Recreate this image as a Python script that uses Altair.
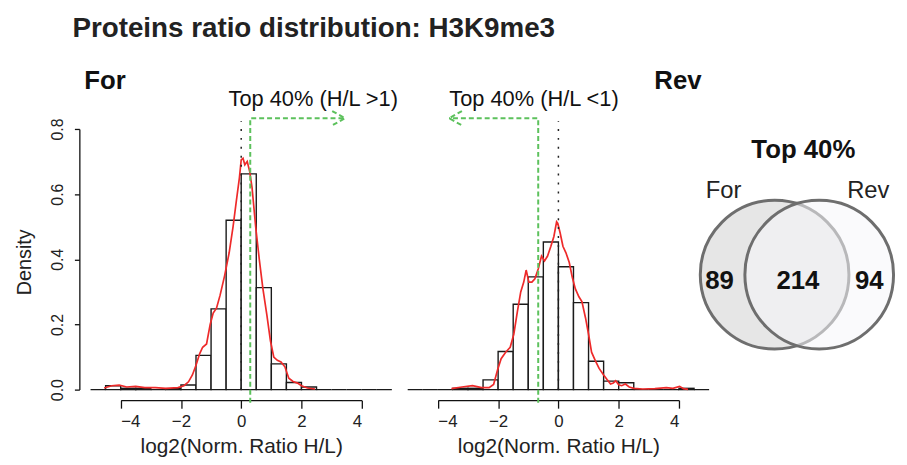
import altair as alt
import pandas as pd

# ---------------- data ----------------
bin_starts = [-5.0, -4.5, -4.0, -3.5, -3.0, -2.5, -2.0, -1.5, -1.0, -0.5,
              0.0, 0.5, 1.0, 1.5, 2.0, 2.5, 3.0, 3.5, 4.0, 4.5]
bin_width = 0.5
for_hist = [0, 0.012, 0.004, 0.004, 0, 0.003, 0.014, 0.105, 0.248, 0.52,
            0.662, 0.313, 0.079, 0.022, 0.008, 0, 0, 0, 0, 0]
rev_hist = [0, 0, 0, 0.004, 0.004, 0.03, 0.117, 0.262, 0.346, 0.453,
            0.377, 0.267, 0.087, 0.026, 0.021, 0, 0, 0, 0.004, 0]

for_curve_x = [-4.55, -4.3, -4.05, -3.8, -3.5, -3.2, -2.85, -2.5, -2.1, -1.9, -1.75, -1.62,
               -1.5, -1.38, -1.28, -1.15, -1.03, -0.93, -0.82, -0.7, -0.55, -0.4, -0.27,
               -0.16, -0.06, 0.0, 0.06, 0.12, 0.2, 0.28, 0.36, 0.48, 0.6, 0.72, 0.85, 0.97,
               1.08, 1.2, 1.32, 1.45, 1.58, 1.72, 1.87, 2.0, 2.2, 2.45]
for_curve_y = [0.005, 0.012, 0.014, 0.008, 0.010, 0.006, 0.006, 0.004, 0.006, 0.012, 0.024,
               0.045, 0.075, 0.11, 0.13, 0.14, 0.2, 0.235, 0.25, 0.29, 0.35, 0.42, 0.5, 0.58,
               0.65, 0.705, 0.71, 0.69, 0.70, 0.67, 0.62, 0.5, 0.4, 0.31, 0.23, 0.15, 0.1,
               0.09, 0.085, 0.07, 0.035, 0.025, 0.02, 0.012, 0.005, 0.002]

rev_curve_x = [-3.55, -3.2, -2.85, -2.55, -2.3, -2.15, -2.02, -1.9, -1.75, -1.6, -1.48, -1.36,
               -1.25, -1.15, -1.07, -0.98, -0.88, -0.78, -0.67, -0.56, -0.46, -0.36, -0.25,
               -0.15, -0.06, -0.02, 0.06, 0.15, 0.25, 0.36, 0.46, 0.56, 0.68, 0.78, 0.9, 1.0,
               1.1, 1.22, 1.35, 1.5, 1.62, 1.73, 1.82, 1.9, 2.0, 2.1, 2.22, 2.35, 2.5, 2.8,
               3.2, 3.58, 3.8, 4.02, 4.15, 4.3]
rev_curve_y = [0.003, 0.008, 0.012, 0.006, 0.006, 0.016, 0.06, 0.095, 0.115, 0.13, 0.17, 0.24,
               0.3, 0.33, 0.367, 0.33, 0.33, 0.34, 0.37, 0.41, 0.395, 0.41, 0.44, 0.47, 0.515,
               0.51, 0.48, 0.44, 0.42, 0.39, 0.345, 0.31, 0.285, 0.27, 0.22, 0.17, 0.115, 0.09,
               0.065, 0.045, 0.03, 0.017, 0.02, 0.027, 0.015, 0.012, 0.017, 0.008, 0.004,
               0.002, 0.003, 0.006, 0.004, 0.01, 0.003, 0.001]

for_cutoff = 0.3      # log2 ratio cut-off of the top 40% (H/L > 1)
rev_cutoff = -0.67    # log2 ratio cut-off of the top 40% (H/L < 1)

x_ticks = [-4, -2, 0, 2, 4]
y_ticks = [0.0, 0.2, 0.4, 0.6, 0.8]

venn_sets = ["For", "Rev"]
venn_counts = [89, 214, 94]          # For only, both, Rev only
venn_title = "Top 40%"
main_title = "Proteins ratio distribution: H3K9me3"
x_title = "log2(Norm. Ratio H/L)"

# ---------------- layout ----------------
W, H = 899, 457
FONT = "Liberation Sans"
LEFT_RANGE = [113.7, 356.9]
RIGHT_RANGE = [433.7, 677.0]
Y_RANGE = [383, 120]
GREEN = "#5cc15c"
RED = "#ee2a2a"


def xaxis_spec():
    return alt.Axis(values=x_ticks, orient="bottom", offset=-63.3, tickSize=8,
                    tickWidth=1.3, tickColor="#111", domainColor="#111", domainWidth=1.3,
                    labelFont=FONT, labelFontSize=17, labelColor="#222", labelPadding=6,
                    title=x_title, titleFont=FONT, titleFontSize=21, titleFontWeight="normal",
                    titleColor="#222", titleY=47, titleBaseline="middle", grid=False)


def panel(hist, cx, cy, cutoff, direction, xrange, show_y, note, note_x, name, name_x, name_align):
    xs = alt.Scale(domain=[-4, 4], range=xrange, nice=False, zero=False)
    ys = alt.Scale(domain=[0, 0.8], range=Y_RANGE, nice=False, zero=False)

    hdf = pd.DataFrame({
        "x": bin_starts,
        "x2": [b + bin_width for b in bin_starts],
        "y": hist,
        "y0": [0.0] * len(bin_starts),
    })
    if show_y:
        yaxis = alt.Axis(values=y_ticks, format=".1f", orient="left", offset=-72, tickSize=5,
                         tickWidth=1.3, tickColor="#111", domainColor="#111", domainWidth=1.3,
                         labelFont=FONT, labelFontSize=16, labelColor="#222", labelAngle=270,
                         labelAlign="center", labelBaseline="middle", labelPadding=17,
                         title="Density", titleFont=FONT, titleFontSize=20,
                         titleFontWeight="normal", titleColor="#222", titleAngle=270,
                         titleX=-55, titleY=254, titleAlign="center", titleBaseline="middle",
                         grid=False)
    else:
        yaxis = None

    bars = alt.Chart(hdf).mark_bar(fill="white", stroke="#1a1a1a", strokeWidth=1.4).encode(
        x=alt.X("x:Q", scale=xs, axis=xaxis_spec()),
        x2="x2:Q",
        y=alt.Y("y:Q", scale=ys, axis=yaxis),
        y2="y0:Q",
    )

    cdf = pd.DataFrame({"x": cx, "y": cy, "o": list(range(len(cx)))})
    curve = alt.Chart(cdf).mark_line(color=RED, strokeWidth=1.7).encode(
        x=alt.X("x:Q", scale=xs, axis=None),
        y=alt.Y("y:Q", scale=ys, axis=None),
        order="o:Q",
    )

    ddf = pd.DataFrame({"x": [0.0], "y": [0.0], "y2": [0.824]})
    dotted = alt.Chart(ddf).mark_rule(color="#222", strokeWidth=1.5, strokeDash=[2, 7]).encode(
        x=alt.X("x:Q", scale=xs, axis=None),
        y=alt.Y("y:Q", scale=ys, axis=None),
        y2="y2:Q",
    )

    tip = 3.45 if direction > 0 else -3.63
    back = tip - direction * 0.43
    gdf = pd.DataFrame({
        "x": [cutoff, cutoff, tip, back, tip, back],
        "y": [-0.04, 0.833, 0.833, 0.855, 0.833, 0.811],
        "seg": ["path", "path", "path", "head", "head", "head"],
        "o": [0, 1, 2, 0, 1, 2],
    })
    green = alt.Chart(gdf).mark_line(color=GREEN, strokeWidth=2, strokeDash=[5, 3]).encode(
        x=alt.X("x:Q", scale=xs, axis=None),
        y=alt.Y("y:Q", scale=ys, axis=None),
        detail="seg:N",
        order="o:Q",
    )

    ndf = pd.DataFrame({"x": [note_x], "y": [0.872], "t": [note]})
    note_text = alt.Chart(ndf).mark_text(font=FONT, fontSize=22, color="#111", align="center",
                                         baseline="alphabetic").encode(
        x=alt.X("x:Q", scale=xs, axis=None),
        y=alt.Y("y:Q", scale=ys, axis=None),
        text="t:N",
    )

    tdf = pd.DataFrame({"x": [name_x], "y": [0.924], "t": [name]})
    name_text = alt.Chart(tdf).mark_text(font=FONT, fontSize=26, fontWeight="bold", color="#111",
                                         align=name_align, baseline="alphabetic").encode(
        x=alt.X("x:Q", scale=xs, axis=None),
        y=alt.Y("y:Q", scale=ys, axis=None),
        text="t:N",
    )
    return [bars, curve, dotted, green, note_text, name_text]


left_layers = panel(for_hist, for_curve_x, for_curve_y, for_cutoff, 1, LEFT_RANGE, True,
                    "Top 40% (H/L >1)", 2.39, "For", -5.21, "left")
right_layers = panel(rev_hist, rev_curve_x, rev_curve_y, rev_cutoff, -1, RIGHT_RANGE, False,
                     "Top 40% (H/L <1)", -0.81, "Rev", 4.75, "right")

# ---------------- Venn diagram ----------------
vx = alt.Scale(domain=[-100, 100], range=[696, 896], nice=False, zero=False)
vy = alt.Scale(domain=[-100, 100], range=[367, 167], nice=False, zero=False)

circ = pd.DataFrame({"set": venn_sets, "x": [-22.5, 22.5], "y": [0.0, 0.0]})
c_for = alt.Chart(circ).transform_filter(alt.datum.set == "For").mark_point(
    shape="circle", filled=True, fill="#e6e6e6", stroke="#6e6e6e", strokeWidth=3,
    opacity=1, fillOpacity=1, size=22500).encode(
    x=alt.X("x:Q", scale=vx, axis=None), y=alt.Y("y:Q", scale=vy, axis=None))
c_rev = alt.Chart(circ).transform_filter(alt.datum.set == "Rev").mark_point(
    shape="circle", filled=True, fill="#f5f5fa", stroke="#6e6e6e", strokeWidth=3,
    opacity=1, fillOpacity=0.55, strokeOpacity=1, size=22500).encode(
    x=alt.X("x:Q", scale=vx, axis=None), y=alt.Y("y:Q", scale=vy, axis=None))

set_lab = pd.DataFrame({"t": venn_sets, "x": [-74, 72], "y": [77, 77]})
set_text = alt.Chart(set_lab).mark_text(font=FONT, fontSize=24, color="#222",
                                        baseline="alphabetic").encode(
    x=alt.X("x:Q", scale=vx, axis=None), y=alt.Y("y:Q", scale=vy, axis=None), text="t:N")

num_lab = pd.DataFrame({"t": [str(v) for v in venn_counts], "x": [-78, 1, 73],
                        "y": [-6, -6, -6]})
num_text = alt.Chart(num_lab).mark_text(font=FONT, fontSize=26, fontWeight="bold",
                                        color="#111", baseline="middle").encode(
    x=alt.X("x:Q", scale=vx, axis=None), y=alt.Y("y:Q", scale=vy, axis=None), text="t:N")

vt = pd.DataFrame({"t": [venn_title], "x": [6.5], "y": [118]})
vt_text = alt.Chart(vt).mark_text(font=FONT, fontSize=26, fontWeight="bold", color="#111",
                                  baseline="alphabetic").encode(
    x=alt.X("x:Q", scale=vx, axis=None), y=alt.Y("y:Q", scale=vy, axis=None), text="t:N")

mt = pd.DataFrame({"t": [main_title]})
mt_text = alt.Chart(mt).mark_text(font=FONT, fontSize=28, fontWeight="bold", color="#222",
                                  align="left", baseline="alphabetic").encode(
    x=alt.value(65), y=alt.value(27), text="t:N")

venn_layers = [c_for, c_rev, set_text, num_text, vt_text, mt_text]

chart = alt.layer(*left_layers, *right_layers, *venn_layers).resolve_scale(
    x="independent", y="independent"
).properties(
    width=W, height=H, autosize=alt.AutoSizeParams(type="none"), padding=0,
    background="white"
).configure_view(stroke=None)

chart.save("out.html", embed_options={"renderer": "svg", "actions": False})
